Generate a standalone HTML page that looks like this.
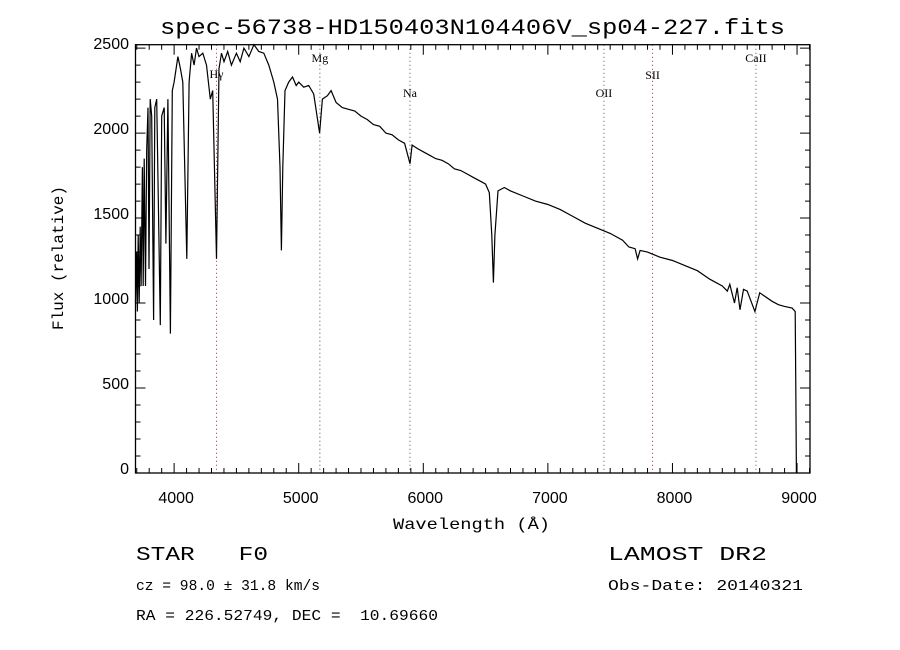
<!DOCTYPE html>
<html><head><meta charset="utf-8"><style>
html,body{margin:0;padding:0;background:#fff;}
svg{display:block;font-family:"Liberation Sans",sans-serif;}
.ser{font-family:"Liberation Mono",monospace;white-space:pre;}
</style></head><body>
<svg id="c" width="900" height="650" xmlns="http://www.w3.org/2000/svg">
<rect width="900" height="650" fill="#fff"/>
<text class="ser" x="160" y="34" font-size="22" textLength="625" lengthAdjust="spacingAndGlyphs">spec-56738-HD150403N104406V_sp04-227.fits</text>
<text class="ser" x="393" y="529" font-size="16" textLength="157" lengthAdjust="spacingAndGlyphs">Wavelength (Å)</text>
<text class="ser" x="63" y="258" font-size="16" text-anchor="middle" transform="rotate(-90 63 258)">Flux (relative)</text>
<text class="ser" x="136" y="560" font-size="19" textLength="132" lengthAdjust="spacingAndGlyphs">STAR   F0</text>
<text class="ser" x="136" y="590" font-size="15" textLength="184" lengthAdjust="spacingAndGlyphs">cz = 98.0 ± 31.8 km/s</text>
<text class="ser" x="136" y="620" font-size="15" textLength="302" lengthAdjust="spacingAndGlyphs">RA = 226.52749, DEC =  10.69660</text>
<text class="ser" x="608" y="560" font-size="19" textLength="159" lengthAdjust="spacingAndGlyphs">LAMOST DR2</text>
<text class="ser" x="608" y="590" font-size="15" textLength="195" lengthAdjust="spacingAndGlyphs">Obs-Date: 20140321</text>
<g id="plot"></g>
</svg>
<script>
const waves=[3690,3700,3705,3712,3720,3728,3735,3745,3752,3760,3770,3780,3790,3798,3808,3820,3835,3845,3860,3889,3900,3920,3934,3950,3970,3985,4000,4030,4050,4070,4102,4120,4140,4160,4180,4200,4230,4260,4290,4310,4340,4360,4380,4400,4430,4460,4500,4530,4560,4600,4640,4680,4720,4760,4800,4830,4850,4861,4872,4890,4920,4950,4980,5000,5040,5080,5120,5168,5190,5230,5260,5300,5350,5400,5450,5500,5550,5600,5650,5700,5750,5800,5850,5893,5910,5950,6000,6050,6100,6150,6200,6250,6300,6350,6400,6450,6500,6530,6550,6563,6575,6600,6650,6700,6800,6900,7000,7100,7200,7300,7400,7500,7600,7650,7700,7720,7740,7800,7900,8000,8100,8200,8300,8400,8440,8460,8498,8520,8542,8570,8600,8662,8700,8800,8850,8900,8960,8985,8990,8995];
const flux=[1000,1300,950,1400,1000,1450,1100,1800,1100,1850,1100,1900,2150,1200,2200,2100,900,2150,2200,870,2100,2150,1350,2200,820,2250,2300,2450,2380,2300,1260,2300,2470,2400,2500,2450,2470,2400,2200,2250,1260,2380,2470,2420,2480,2400,2470,2420,2500,2450,2520,2480,2470,2400,2300,2200,1800,1310,1800,2250,2300,2330,2280,2300,2270,2280,2230,2000,2200,2220,2250,2180,2150,2140,2130,2100,2080,2050,2040,2000,1990,1960,1940,1820,1930,1910,1890,1870,1850,1840,1820,1790,1780,1760,1740,1720,1700,1650,1400,1120,1400,1660,1680,1660,1630,1600,1580,1550,1510,1470,1440,1410,1370,1330,1320,1260,1310,1300,1270,1250,1220,1190,1140,1100,1070,1110,1000,1090,960,1080,1070,950,1060,1010,990,980,970,950,500,0];
const xTicks=[4000,5000,6000,7000,8000,9000];
const yTicks=[0,500,1000,1500,2000,2500];
const lineNames=["H\u03b3","Mg","Na","OII","SII","CaII"];
const lineWaves=[4340,5170,5893,7450,7840,8670];
const lineLabelY=[78,62,97,97,79,62];
const X0=135.5,X1=810,Y0=44.7,Y1=473,XMIN=3690,XMAX=9104,YMIN=0,YMAX=2520;
const sx=w=>X0+(w-XMIN)/(XMAX-XMIN)*(X1-X0);
const sy=v=>Y1-(v-YMIN)/(YMAX-YMIN)*(Y1-Y0);
const g=document.getElementById('plot');const NS='http://www.w3.org/2000/svg';
function mk(t,a,p){const e=document.createElementNS(NS,t);for(const k in a)e.setAttribute(k,a[k]);(p||g).appendChild(e);return e;}
lineWaves.forEach((w,i)=>{
 const l=mk('line',{x1:sx(w),x2:sx(w),y1:Y0,y2:Y1,stroke:'#a03030','stroke-width':1,'stroke-dasharray':'1,3'});
 
 
 const t=mk('text',{x:sx(w),y:lineLabelY[i],'font-size':12,'text-anchor':'middle','font-family':'Liberation Serif,serif'});
 t.textContent=lineNames[i];
 
 
});
const fr=mk('rect',{x:X0,y:Y0,width:X1-X0,height:Y1-Y0,fill:'none',stroke:'#000','stroke-width':1.3});


let tk='';
for(let w=3700;w<=9100;w+=100){const L=(w%1000===0)?10:5;const x=sx(w);tk+=`M${x},${Y1}v${-L}M${x},${Y0}v${L}`;}
for(let v=0;v<=2500;v+=100){const L=(v%500===0)?10:5;const y=sy(v);tk+=`M${X0},${y}h${L}M${X1},${y}h${-L}`;}
const tp=mk('path',{d:tk,stroke:'#000','stroke-width':1,fill:'none'});


xTicks.forEach(w=>{const t=mk('text',{x:sx(w)+2,y:503,'font-size':16,'text-anchor':'middle'});t.textContent=w;
 
 });
yTicks.forEach(v=>{const t=mk('text',{x:129,y:sy(v)+1,'font-size':16,'text-anchor':'end'});t.textContent=v;
 
 });
let d='';waves.forEach((w,i)=>{d+=(i?'L':'M')+sx(w).toFixed(1)+','+sy(Math.min(flux[i],YMAX)).toFixed(1);});
const sp=mk('path',{d:d,stroke:'#000','stroke-width':1.2,fill:'none'});


</script>
</body></html>
